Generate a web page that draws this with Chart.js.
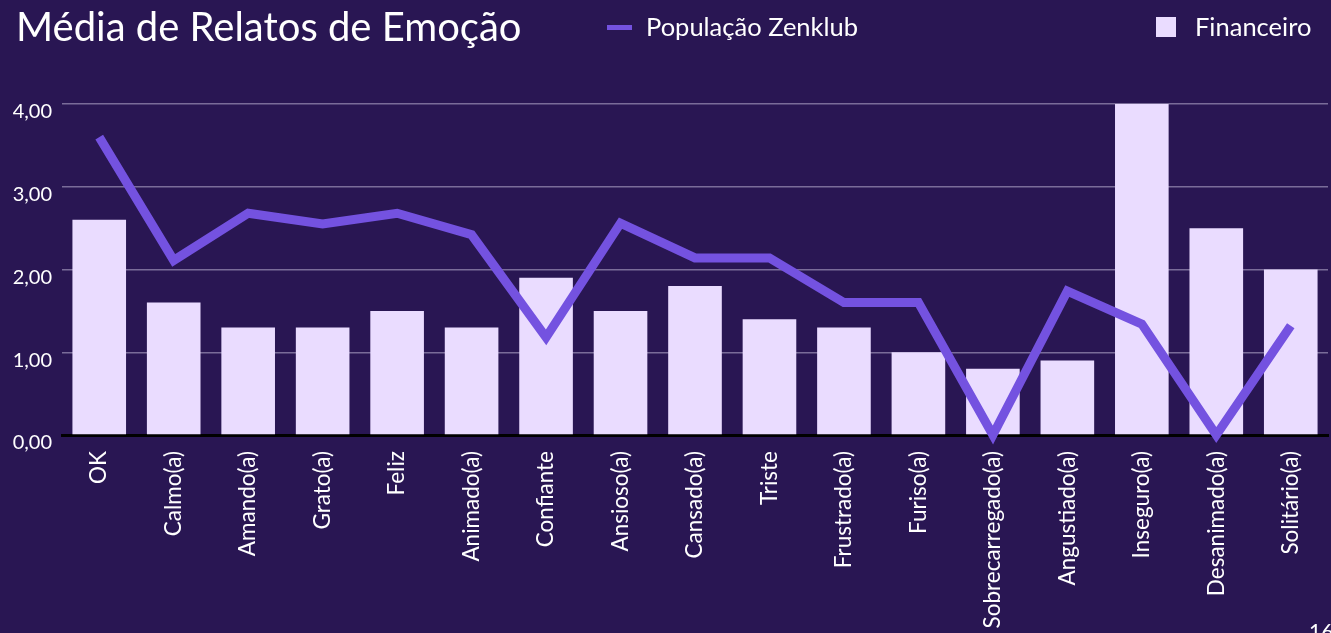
<!DOCTYPE html>
<html>
<head>
<meta charset="utf-8">
<script src="https://cdn.jsdelivr.net/npm/chart.js@4"></script>
<style>
  html, body { margin: 0; padding: 0; background: #291653; overflow: hidden; }
  #wrap { position: relative; width: 1331px; height: 633px; font-family: Lato, "Open Sans", sans-serif; color: #fff; }
  #chart { position: absolute; left: 0; top: 0; }
  .titulo { position: absolute; left: 16px; top: 2px; font-size: 40px; white-space: nowrap; }
  .leg { position: absolute; top: 11px; font-size: 25.5px; white-space: nowrap; }
  .leg-line { position: absolute; left: 607px; top: 25px; width: 25px; height: 5px; background: #7452e0; }
  .leg-box { position: absolute; left: 1156px; top: 17px; width: 20px; height: 20px; background: #eadcff; }
  .pagina { position: absolute; left: 1309px; top: 618px; font-size: 21px; }
</style>
</head>
<body>
<div id="wrap">
  <canvas id="chart" width="1331" height="633"></canvas>
  <div class="titulo">Média de Relatos de Emoção</div>
  <div class="leg-line"></div>
  <div class="leg" style="left:646px">População Zenklub</div>
  <div class="leg-box"></div>
  <div class="leg" style="left:1195px">Financeiro</div>
  <div class="pagina">16</div>
</div>
<script>
const emocoes = ["OK", "Calmo(a)", "Amando(a)", "Grato(a)", "Feliz", "Animado(a)", "Confiante",
  "Ansioso(a)", "Cansado(a)", "Triste", "Frustrado(a)", "Furiso(a)", "Sobrecarregado(a)",
  "Angustiado(a)", "Inseguro(a)", "Desanimado(a)", "Solitário(a)"];

// barras - Financeiro
const financeiro = [2.6, 1.6, 1.3, 1.3, 1.5, 1.3, 1.9, 1.5, 1.8, 1.4, 1.3, 1.0, 0.8, 0.9, 4.0, 2.5, 2.0];

// linha - População Zenklub
const populacao = [3.6, 2.11, 2.68, 2.55, 2.68, 2.42, 1.18, 2.56, 2.14, 2.14, 1.6, 1.6, 0, 1.74, 1.34, 0, 1.32];

const yTicks = [0, 1, 2, 3, 4];

const ctx = document.getElementById("chart").getContext("2d");

new Chart(ctx, {
  type: "bar",
  data: {
    labels: emocoes,
    datasets: [
      {
        type: "line",
        label: "População Zenklub",
        data: populacao,
        borderColor: "#7452e0",
        backgroundColor: "#7452e0",
        borderWidth: 9,
        pointRadius: 0,
        tension: 0,
        borderJoinStyle: "miter",
        borderCapStyle: "butt",
        clip: false,
        order: 0,
      },
      {
        label: "Financeiro",
        data: financeiro,
        backgroundColor: "#eadcff",
        barPercentage: 0.72,
        categoryPercentage: 1,
        order: 1,
      },
    ],
  },
  options: {
    responsive: false,
    animation: false,
    layout: { padding: { top: 104, right: 3, left: 0, bottom: 0 } },
    plugins: {
      legend: { display: false },
      tooltip: { enabled: false },
    },
    scales: {
      x: {
        grid: { display: false },
        border: { display: true, color: "#000000", width: 3 },
        ticks: {
          color: "#ffffff",
          font: { family: "Lato", size: 22.5 },
          minRotation: 90,
          maxRotation: 90,
          autoSkip: false,
          padding: 8,
        },
        afterFit: function (scale) {
          scale.height = 198; // rótulos longos saem da área
        },
      },
      y: {
        min: 0,
        max: 4,
        afterBuildTicks: function (scale) {
          scale.ticks = yTicks.map(function (v) { return { value: v }; });
        },
        grid: { color: "#7a6c99", lineWidth: 1.5, drawTicks: false },
        border: { display: false },
        ticks: {
          color: "#ffffff",
          font: { family: "Lato", size: 20 },
          padding: 10,
          labelOffset: 8,
          callback: function (value) {
            return value.toFixed(2).replace(".", ",");
          },
        },
        afterFit: function (scale) {
          scale.width = 62;
        },
      },
    },
  },
});
</script>
</body>
</html>
